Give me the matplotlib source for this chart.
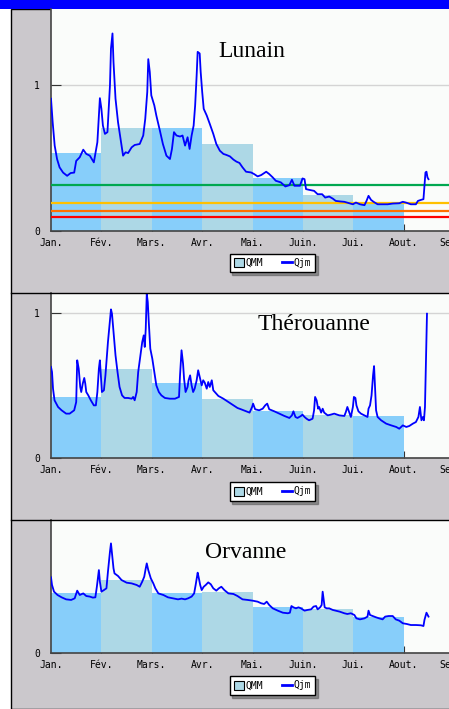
## Debits journaliers (Qjm) et moyennes mensuelles (QMM) de trois cours d'eau

# imports
import matplotlib
matplotlib.use('Agg')
import matplotlib.pyplot as plt
from matplotlib.patches import Patch, Rectangle
from matplotlib.lines import Line2D

# axe des mois
mois = ['Jan.', 'Fév.', 'Mars.', 'Avr.', 'Mai.', 'Juin.', 'Jui.', 'Aout.', 'Sept.']

# Lunain
lunain_qmm = [0.532, 0.704, 0.704, 0.596, 0.36, 0.245, 0.195]
lunain_seuils = [0.317, 0.19, 0.138, 0.099]
lunain_t = [0, 0.033, 0.073, 0.12, 0.17, 0.24, 0.32, 0.39, 0.46, 0.50, 0.57, 0.64, 0.70, 0.77, 0.85,
            0.92, 0.97, 1.00, 1.03, 1.07, 1.12, 1.17, 1.19, 1.22, 1.24, 1.28, 1.33, 1.38, 1.43, 1.48,
            1.53, 1.60, 1.66, 1.76, 1.83, 1.87, 1.91, 1.93, 1.96, 1.99, 2.05, 2.09, 2.16, 2.22, 2.29,
            2.36, 2.40, 2.44, 2.49, 2.56, 2.61, 2.66, 2.71, 2.75, 2.79, 2.83, 2.86, 2.89, 2.91, 2.95,
            2.97, 3.00, 3.03, 3.09, 3.15, 3.22, 3.28, 3.35, 3.42, 3.48, 3.55, 3.62, 3.68, 3.74, 3.80,
            3.87, 3.97, 4.03, 4.10, 4.17, 4.27, 4.33, 4.40, 4.46, 4.56, 4.65, 4.73, 4.78, 4.83, 4.89,
            4.94, 4.99, 5.03, 5.06, 5.12, 5.22, 5.29, 5.38, 5.44, 5.52, 5.59, 5.65, 5.75, 5.82, 5.92,
            5.99, 6.05, 6.13, 6.22, 6.26, 6.30, 6.35, 6.40, 6.48, 6.58, 6.68, 6.78, 6.91, 6.98, 7.04,
            7.14, 7.24, 7.28, 7.34, 7.39, 7.41, 7.43, 7.45, 7.47, 7.49]
lunain_q = [0.906, 0.745, 0.585, 0.493, 0.436, 0.40, 0.378, 0.397, 0.40, 0.48, 0.505, 0.557, 0.528, 0.516, 0.47,
            0.608, 0.91, 0.837, 0.722, 0.665, 0.677, 0.998, 1.25, 1.353, 1.158, 0.906, 0.745, 0.63, 0.516, 0.539,
            0.534, 0.573, 0.589, 0.596, 0.654, 0.768, 0.952, 1.177, 1.089, 0.929, 0.86, 0.791, 0.688, 0.596, 0.516,
            0.493, 0.562, 0.677, 0.654, 0.647, 0.654, 0.585, 0.642, 0.562, 0.654, 0.722, 0.86, 1.067, 1.227, 1.216,
            1.089, 0.952, 0.837, 0.791, 0.734, 0.665, 0.596, 0.55, 0.528, 0.521, 0.511, 0.489, 0.475, 0.466, 0.436,
            0.406, 0.401, 0.39, 0.374, 0.383, 0.406, 0.39, 0.367, 0.344, 0.333, 0.305, 0.314, 0.351, 0.31, 0.31,
            0.31, 0.36, 0.355, 0.287, 0.282, 0.275, 0.252, 0.252, 0.229, 0.236, 0.222, 0.206, 0.202, 0.20, 0.19,
            0.183, 0.195, 0.183, 0.177, 0.206, 0.241, 0.213, 0.20, 0.183, 0.183, 0.183, 0.188, 0.19, 0.20, 0.195,
            0.183, 0.183, 0.206, 0.213, 0.218, 0.31, 0.401, 0.406, 0.367, 0.355]

# Therouanne
therouanne_qmm = [0.418, 0.611, 0.52, 0.405, 0.322, 0.299, 0.29]
therouanne_t = [0, 0.02, 0.04, 0.07, 0.14, 0.21, 0.30, 0.37, 0.46, 0.50, 0.52, 0.55, 0.58, 0.60, 0.63,
                0.66, 0.68, 0.70, 0.74, 0.79, 0.85, 0.89, 0.92, 0.95, 0.97, 0.99, 1.01, 1.05, 1.08, 1.11,
                1.13, 1.16, 1.19, 1.21, 1.24, 1.28, 1.32, 1.36, 1.41, 1.46, 1.53, 1.60, 1.63, 1.66, 1.70,
                1.73, 1.77, 1.81, 1.84, 1.86, 1.88, 1.90, 1.92, 1.94, 1.97, 2.01, 2.05, 2.09, 2.14, 2.19,
                2.26, 2.36, 2.46, 2.54, 2.56, 2.59, 2.62, 2.64, 2.67, 2.71, 2.73, 2.76, 2.79, 2.82, 2.85,
                2.89, 2.92, 2.95, 2.99, 3.02, 3.05, 3.09, 3.12, 3.15, 3.19, 3.22, 3.25, 3.32, 3.42, 3.52,
                3.62, 3.70, 3.77, 3.87, 3.94, 3.99, 4.01, 4.05, 4.13, 4.20, 4.25, 4.29, 4.33, 4.43, 4.53,
                4.63, 4.73, 4.78, 4.81, 4.85, 4.89, 4.96, 4.99, 5.03, 5.07, 5.12, 5.19, 5.22, 5.24, 5.27,
                5.30, 5.32, 5.36, 5.39, 5.42, 5.49, 5.55, 5.62, 5.72, 5.82, 5.85, 5.88, 5.92, 5.95, 5.99,
                6.01, 6.04, 6.06, 6.10, 6.15, 6.22, 6.28, 6.30, 6.33, 6.36, 6.39, 6.41, 6.43, 6.45, 6.48,
                6.55, 6.65, 6.75, 6.85, 6.91, 6.98, 7.05, 7.11, 7.18, 7.24, 7.29, 7.32, 7.35, 7.38, 7.40,
                7.42, 7.44, 7.46]
therouanne_q = [0.628, 0.593, 0.478, 0.398, 0.352, 0.329, 0.306, 0.306, 0.329, 0.386, 0.674, 0.616, 0.49, 0.455, 0.513,
                0.552, 0.513, 0.455, 0.432, 0.398, 0.363, 0.363, 0.455, 0.616, 0.674, 0.559, 0.455, 0.467, 0.57, 0.708,
                0.80, 0.915, 1.025, 0.995, 0.869, 0.708, 0.593, 0.49, 0.432, 0.414, 0.414, 0.409, 0.421, 0.398, 0.455,
                0.593, 0.697, 0.80, 0.846, 0.766, 0.892, 1.133, 1.076, 0.938, 0.754, 0.685, 0.593, 0.501, 0.455, 0.432,
                0.414, 0.409, 0.409, 0.421, 0.57, 0.743, 0.651, 0.547, 0.455, 0.49, 0.536, 0.57, 0.501, 0.455, 0.478,
                0.536, 0.605, 0.559, 0.501, 0.536, 0.52, 0.478, 0.524, 0.49, 0.536, 0.467, 0.455, 0.428, 0.409, 0.386,
                0.363, 0.345, 0.336, 0.322, 0.313, 0.352, 0.375, 0.336, 0.329, 0.34, 0.363, 0.375, 0.336, 0.322, 0.306,
                0.29, 0.276, 0.294, 0.322, 0.283, 0.276, 0.29, 0.299, 0.283, 0.271, 0.26, 0.271, 0.329, 0.421, 0.398,
                0.34, 0.352, 0.313, 0.34, 0.313, 0.294, 0.299, 0.306, 0.294, 0.29, 0.317, 0.352, 0.313, 0.283, 0.352,
                0.421, 0.414, 0.363, 0.322, 0.306, 0.294, 0.283, 0.34, 0.363, 0.432, 0.57, 0.634, 0.478, 0.329, 0.283,
                0.26, 0.237, 0.225, 0.214, 0.202, 0.225, 0.214, 0.221, 0.237, 0.248, 0.283, 0.352, 0.26, 0.283, 0.26,
                0.352, 0.685, 0.995]

# Orvanne
orvanne_qmm = [0.411, 0.503, 0.411, 0.423, 0.315, 0.301, 0.246]
orvanne_t = [0, 0.02, 0.06, 0.13, 0.21, 0.30, 0.40, 0.47, 0.52, 0.57, 0.64, 0.70, 0.77, 0.83, 0.88,
             0.91, 0.93, 0.95, 0.97, 1.00, 1.05, 1.10, 1.13, 1.17, 1.19, 1.21, 1.24, 1.26, 1.33, 1.40,
             1.50, 1.60, 1.70, 1.76, 1.81, 1.85, 1.88, 1.90, 1.93, 1.98, 2.03, 2.07, 2.13, 2.23, 2.32,
             2.42, 2.52, 2.59, 2.66, 2.72, 2.79, 2.84, 2.87, 2.91, 2.93, 2.96, 2.99, 3.03, 3.07, 3.12,
             3.17, 3.22, 3.28, 3.33, 3.38, 3.44, 3.52, 3.62, 3.70, 3.74, 3.80, 3.90, 4.00, 4.10, 4.17,
             4.23, 4.28, 4.33, 4.40, 4.50, 4.60, 4.70, 4.74, 4.77, 4.81, 4.86, 4.91, 4.96, 5.03, 5.09,
             5.16, 5.21, 5.26, 5.29, 5.34, 5.37, 5.39, 5.41, 5.43, 5.47, 5.52, 5.59, 5.65, 5.73, 5.82,
             5.88, 5.95, 6.02, 6.06, 6.13, 6.22, 6.28, 6.30, 6.33, 6.38, 6.45, 6.51, 6.58, 6.63, 6.70,
             6.78, 6.84, 6.91, 6.98, 7.06, 7.14, 7.24, 7.34, 7.39, 7.41, 7.45, 7.49]
orvanne_q = [0.522, 0.469, 0.423, 0.40, 0.384, 0.37, 0.366, 0.377, 0.43, 0.40, 0.411, 0.393, 0.389, 0.382, 0.384,
             0.457, 0.515, 0.572, 0.492, 0.423, 0.434, 0.446, 0.561, 0.699, 0.756, 0.687, 0.584, 0.549, 0.531, 0.503,
             0.485, 0.48, 0.469, 0.457, 0.492, 0.526, 0.584, 0.618, 0.572, 0.515, 0.48, 0.446, 0.411, 0.40, 0.384,
             0.377, 0.37, 0.375, 0.37, 0.377, 0.389, 0.411, 0.469, 0.554, 0.522, 0.469, 0.434, 0.457, 0.469, 0.487,
             0.474, 0.446, 0.43, 0.446, 0.457, 0.434, 0.411, 0.407, 0.393, 0.384, 0.37, 0.366, 0.361, 0.354, 0.343,
             0.338, 0.354, 0.331, 0.308, 0.292, 0.278, 0.274, 0.278, 0.324, 0.315, 0.308, 0.315, 0.308, 0.292, 0.297,
             0.301, 0.32, 0.324, 0.301, 0.315, 0.331, 0.423, 0.366, 0.315, 0.308, 0.308, 0.297, 0.292, 0.285, 0.274,
             0.269, 0.274, 0.262, 0.239, 0.232, 0.239, 0.251, 0.292, 0.262, 0.255, 0.246, 0.239, 0.232, 0.251, 0.255,
             0.255, 0.232, 0.223, 0.205, 0.20, 0.193, 0.193, 0.191, 0.186, 0.228, 0.278, 0.251]

# couleurs
gris = '#CBC8CC'
fond = '#FAFCFA'
bleu_fonce = '#87CEFA'
bleu_clair = '#ADD8E6'
couleurs_seuils = ['#00A850', '#FFC000', '#FF7000', '#FF0000']

W, H = 449, 709
fig = plt.figure(figsize=(W / 100, H / 100), dpi=100)
fig.patch.set_facecolor('white')

# cadre gris + bandeau bleu
fig.add_artist(Rectangle((11 / W, 0), 1, (H - 9) / H, transform=fig.transFigure,
                         facecolor=gris, edgecolor='black', lw=1, zorder=0))
fig.add_artist(Rectangle((0, (H - 9) / H), 1, 9 / H, transform=fig.transFigure,
                         facecolor='#0000FF', edgecolor='none', zorder=0))
for ysep in [292.5, 520]:
    fig.add_artist(Line2D([11 / W, 1], [1 - ysep / H, 1 - ysep / H], transform=fig.transFigure,
                          color='black', lw=1, zorder=1))

px_mois = 50.4
xmax = 8.6
panneaux = [
    # nom, qmm, t, q, haut, bas (px), px par unite, titre x, titre y, legende y
    ('Lunain', lunain_qmm, lunain_t, lunain_q, 9, 231, 146, 251.5, 57, 263),
    ('Thérouanne', therouanne_qmm, therouanne_t, therouanne_q, 293, 458, 145, 314, 330, 491.5),
    ('Orvanne', orvanne_qmm, orvanne_t, orvanne_q, 520, 653, 145, 246, 558, 685.5),
]

for nom, qmm, t, q, haut, bas, ppu, tx, ty, ly in panneaux:
    ax = fig.add_axes([51 / W, 1 - bas / H, xmax * px_mois / W, (bas - haut) / H])
    ax.set_facecolor(fond)
    ax.set_xlim(0, xmax)
    ax.set_ylim(0, (bas - haut) / ppu)

    # barres QMM, une par mois, couleurs alternees
    cols = [bleu_fonce if i % 2 == 0 else bleu_clair for i in range(len(qmm))]
    ax.bar(range(len(qmm)), qmm, width=1, align='edge', color=cols, zorder=2)

    if nom == 'Lunain':
        for s, c in zip(lunain_seuils, couleurs_seuils):
            ax.axhline(s, color=c, lw=1.6, zorder=3)

    ax.plot(t, q, color='#0000FF', lw=1.3, zorder=4)

    # axes
    ax.set_xticks(range(len(mois)))
    ax.set_xticklabels(mois)
    if ax.get_ylim()[1] > 1:
        ax.set_yticks([0, 1])
    else:
        ax.set_yticks([0])
    ax.set_yticklabels([str(v) for v in ax.get_yticks().astype(int)])
    ax.yaxis.grid(True, color='#D4D4D4', lw=1, zorder=1)
    ax.tick_params(axis='x', direction='in', length=5, pad=5, color='#333333',
                   labelsize=7, labelcolor='black')
    ax.tick_params(axis='y', direction='in', length=7, pad=8, color='#333333',
                   labelsize=7, labelcolor='black')
    for lab in ax.get_xticklabels() + ax.get_yticklabels():
        lab.set_family('DejaVu Sans Mono')
    for sp in ['top', 'right']:
        ax.spines[sp].set_visible(False)
    for sp in ['left', 'bottom']:
        ax.spines[sp].set_color('#444444')
        ax.spines[sp].set_linewidth(1.2)

    fig.text(tx / W, 1 - ty / H, nom, family='Liberation Serif', fontsize=17,
             ha='center', va='baseline')

    handles = [Patch(facecolor=bleu_clair, edgecolor='black', lw=0.8),
               Line2D([0], [0], color='#0000FF', lw=2)]
    leg = ax.legend(handles, ['QMM', 'Qjm'], loc='center', ncol=2,
                    bbox_to_anchor=(272.5 / W, 1 - ly / H), bbox_transform=fig.transFigure,
                    prop={'family': 'DejaVu Sans Mono', 'size': 7},
                    frameon=True, fancybox=False, shadow=True, edgecolor='black',
                    facecolor='white', framealpha=1, handlelength=1.0, handleheight=1.0,
                    handletextpad=0.15, columnspacing=2.0, borderpad=0.45, borderaxespad=0)
    leg.get_frame().set_linewidth(1)
    leg.set_zorder(10)

fig.savefig('out.png', dpi=100, facecolor=fig.get_facecolor())
